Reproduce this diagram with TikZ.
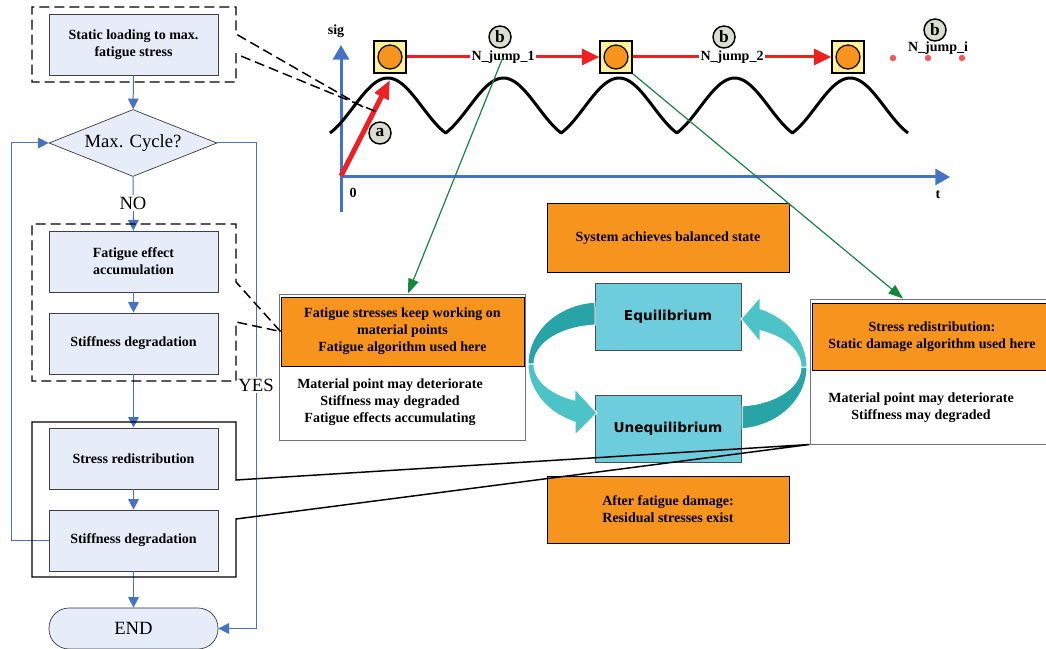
\documentclass[tikz,border=0pt]{standalone}
\usepackage{fontspec}
\setmainfont{Liberation Serif}
\newfontfamily\statefont{DejaVu Sans}
\usepackage{xcolor}
\usepackage{tikz}
\usetikzlibrary{arrows.meta,shapes.geometric,calc}

\definecolor{flowblue}{RGB}{68,114,196}
\definecolor{boxfill}{RGB}{230,236,248}
\definecolor{stateorange}{RGB}{247,148,29}
\definecolor{statecyan}{RGB}{110,205,220}
\definecolor{tealdark}{RGB}{40,164,166}
\definecolor{teallight}{RGB}{75,195,199}
\definecolor{jumpred}{RGB}{237,32,36}
\definecolor{linkgreen}{RGB}{20,135,60}
\definecolor{sqyellow}{RGB}{255,241,150}
\definecolor{tagfill}{RGB}{218,222,205}

\tikzset{
  flowbox/.style={draw=black!75, line width=0.5pt, fill=boxfill, minimum width=126.75pt,
    minimum height=45.75pt, align=center, font=\bfseries\fontsize{10.5}{12.75}\selectfont},
  decision/.style={diamond, aspect=2.5, draw=black!80, line width=0.5pt, fill=boxfill,
    minimum width=126pt, minimum height=50.25pt, inner sep=0pt, font=\fontsize{14}{16}\selectfont},
  terminal/.style={rectangle, rounded corners=15pt, draw=black!80, line width=0.5pt, fill=boxfill,
    minimum width=126.75pt, minimum height=30.75pt, font=\fontsize{14}{16}\selectfont},
  flowlbl/.style={fill=white, inner sep=1pt, font=\fontsize{14}{16}\selectfont},
  flow/.style={draw=flowblue, line width=0.75pt, -{Triangle[width=8pt,length=8pt]}},
  groupdash/.style={line width=1.1pt, dash pattern=on 7.5pt off 3.75pt},
  groupsolid/.style={line width=1.1pt},
  axis/.style={draw=flowblue, line width=2.25pt, -{Triangle[width=12pt,length=11pt]}},
  axislbl/.style={font=\bfseries\fontsize{10.5}{12}\selectfont, inner sep=1pt},
  wave/.style={line width=2.25pt, line join=round},
  jumpa/.style={draw=jumpred, line width=3.75pt, -{Triangle[width=11pt,length=14pt]}},
  jumpline/.style={draw=jumpred, line width=2.25pt, -{Triangle[width=12pt,length=13pt]}},
  jumplbl/.style={fill=white, inner sep=1pt, font=\bfseries\fontsize{10.5}{12}\selectfont},
  jumpsq/.style={draw=black, line width=1.1pt, fill=sqyellow, minimum size=24pt, inner sep=0pt},
  jumpdot/.style={circle, draw=black, line width=0.9pt, fill=stateorange, minimum size=18pt, inner sep=0pt},
  tag/.style={circle, draw=black, line width=1.1pt, fill=tagfill, minimum size=16.5pt, inner sep=0pt,
    font=\bfseries\fontsize{13}{13}\selectfont},
  link/.style={draw=linkgreen, line width=0.9pt, -{Triangle[width=8pt,length=11pt]}},
  infobox/.style={draw=black!55, line width=0.75pt, fill=white},
  headbox/.style={draw=black, line width=0.75pt, fill=stateorange, align=center,
    font=\bfseries\fontsize{10.5}{12.75}\selectfont},
  bodytxt/.style={align=center, font=\bfseries\fontsize{10.5}{12.75}\selectfont},
  statebox/.style={draw=black!70, line width=0.75pt, fill=statecyan, minimum width=109.5pt,
    minimum height=50.25pt, font=\statefont\bfseries\fontsize{10.25}{12}\selectfont},
}

\begin{document}
\begin{tikzpicture}[x=0.75pt,y=-0.75pt]
  \useasboundingbox (0,0) rectangle (1046,649);
  \clip (0,0) rectangle (1046,649);

  \begin{scope}
    \node[infobox, minimum width=184.5pt, minimum height=109.5pt] (midbox) at (402,367) {};
    \node[headbox, minimum width=182.25pt, minimum height=51.75pt] (midhead) at (402.5,331.5)
      {Fatigue stresses keep working on\\material points\\Fatigue algorithm used here};
    \node[bodytxt] (midtxt) at (390,402)
      {Material point may deteriorate\\Stiffness may degraded\\Fatigue effects accumulating};
    \node[infobox, minimum width=183pt, minimum height=108.75pt] (rbox) at (932,371.5) {};
    \node[headbox, minimum width=180pt, minimum height=50.25pt] (rhead) at (932,336.5)
      {Stress redistribution:\\Static damage algorithm used here};
    \node[bodytxt] (rtxt) at (921,408) {Material point may deteriorate\\Stiffness may degraded};
    \node[headbox, minimum width=181.5pt, minimum height=51pt] (balanced) at (668,238)
      {System achieves balanced state};
    \node[headbox, minimum width=181.5pt, minimum height=50.25pt] (residual) at (668,509.5)
      {After fatigue damage:\\Residual stresses exist};
    \node[statebox] (equil) at (668,316.5) {Equilibrium};
    \node[statebox] (unequil) at (668,428.5) {Unequilibrium};

    \filldraw[tealdark, draw=white, line width=0.75pt]
      plot[domain=266:180, samples=40] ({600+72*cos(\x)}, {364+62*sin(\x)})
      -- plot[domain=180:265.7, samples=40] ({600+66*cos(\x)}, {364+39*sin(\x)}) -- cycle;
    \filldraw[teallight, draw=white, line width=0.75pt]
      plot[domain=180:110.3, samples=40] ({600+72*cos(\x)}, {364+62*sin(\x)})
      -- (575,435) -- (597,413) -- (575,389)
      -- plot[domain=112.3:180, samples=40] ({600+66*cos(\x)}, {364+39*sin(\x)}) -- cycle;
    \filldraw[tealdark, draw=white, line width=0.75pt]
      plot[domain=85.15:0, samples=40] ({736+71*cos(\x)}, {367+62*sin(\x)})
      -- plot[domain=0:84.7, samples=40] ({736+65*cos(\x)}, {367+39*sin(\x)}) -- cycle;
    \filldraw[teallight, draw=white, line width=0.75pt]
      plot[domain=0:-70.24, samples=40] ({736+71*cos(\x)}, {367+62*sin(\x)})
      -- (760,297) -- (741,319) -- (760,342)
      -- plot[domain=-68.3:0, samples=40] ({736+65*cos(\x)}, {367+39*sin(\x)}) -- cycle;
  \end{scope}

  \begin{scope}
    \draw[axis] (341,212) -- (341,45);
    \draw[axis] (341,177) -- (950,177);
    \node[axislbl] (sig) at (336,31) {sig};
    \node[axislbl] (zero) at (353,193) {0};
    \node[axislbl] (tlbl) at (938,195) {t};
    \draw[wave] plot[domain=330:908, samples=201]
      (\x, {133-55*(0.5*abs(sin(1.55709*(\x-330)))+0.5*sin(1.55709*(\x-330))^2)});
    \draw[jumpa] (341,176) -- (390,80);
    \node[tag] (taga) at (380,133) {a};

    \node[jumpsq] (sqa) at (390,57) {};
    \node[jumpsq] (sqb) at (616,57) {};
    \node[jumpsq] (sqc) at (848,57) {};
    \foreach \s in {sqa,sqb,sqc}
      \node[jumpdot] (dot-\s) at (\s) {};
    \draw[jumpline] (sqa) -- node[jumplbl] (lbla) {N\_jump\_1} (sqb);
    \draw[jumpline] (sqb) -- node[jumplbl] (lblb) {N\_jump\_2} (sqc);
    \node[tag] (tagb1) at (500,37) {b};
    \node[tag] (tagb2) at (724,37) {b};
    \node[tag] (tagb3) at (935,30) {b};
    \node[axislbl] (lbli) at (938,48) {N\_jump\_i};
    \foreach \x in {893,928,962}
      \fill[jumpred!75] (\x,58) circle (3.2);
  \end{scope}

  \begin{scope}
    \node[flowbox] (static) at (133.5,44.5) {Static loading to max.\\fatigue stress};
    \node[decision] (cycle) at (133,143) {Max. Cycle?};
    \node[flowbox] (fatigue) at (133.5,261.5) {Fatigue effect\\accumulation};
    \node[flowbox] (stiffa) at (133.5,343.5) {Stiffness degradation};
    \node[flowbox] (redist) at (133.5,458.5) {Stress redistribution};
    \node[flowbox] (stiffb) at (133.5,540.5) {Stiffness degradation};
    \node[terminal] (end) at (133.5,628.5) {END};
    \coordinate (yesx) at (256,0);

    \draw[flow] (static) -- (cycle);
    \draw[flow] (cycle) -- (fatigue);
    \node[flowlbl] (no) at (133,203) {NO};
    \draw[flow] (fatigue) -- (stiffa);
    \draw[flow] (stiffa) -- (redist);
    \draw[flow] (redist) -- (stiffb);
    \draw[flow] (stiffb) -- (end);
    \draw[flow] (stiffb.west) -- ++(-37,0) |- (cycle.west);
    \draw[flow] (cycle.east) -| (yesx |- end.east) -- (end.east);
    \node[flowlbl] (yes) at (256,385) {YES};

    \draw[groupdash] (363,107) -- (236,34) -- (236,7) -- (32,7) -- (32,82) -- (236,82) -- (236,54) -- (377,112);
    \draw[groupdash] (midhead.west) -- (236,282) -- (236,224) -- (32,224) -- (32,381) -- (236,381)
      -- (236,322) -- (midhead.west);
    \draw[groupsolid] (rbox.south west) -- (236,480) -- (236,422) -- (32,422) -- (32,577) -- (236,577)
      -- (236,519) -- (rbox.south west);
  \end{scope}

  \draw[link] (lbla.center) -- ($(midbox.north)+(6,0)$);
  \draw[link] (sqb.south east) -- ($(rbox.north)+(-29,0)$);
\end{tikzpicture}
\end{document}
